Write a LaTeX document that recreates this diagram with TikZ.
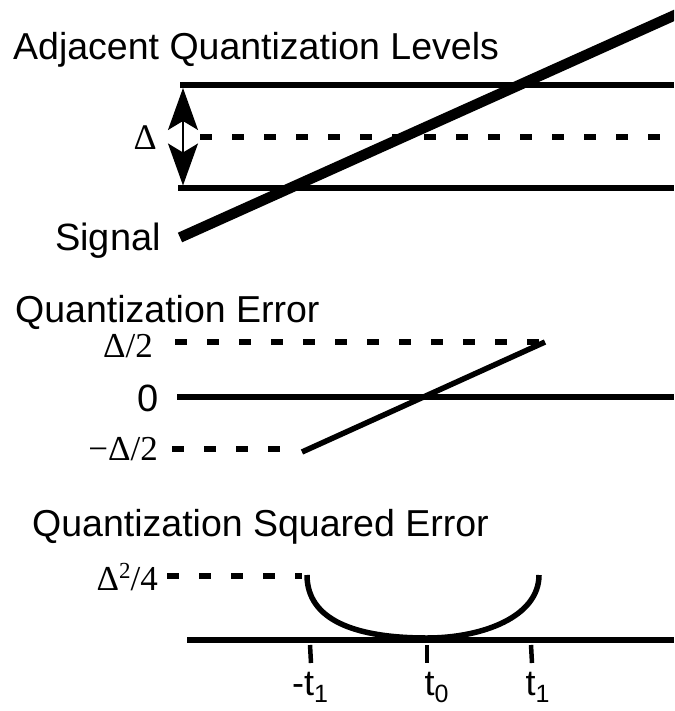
\documentclass[tikz,border=0pt]{standalone}
\usepackage{fontspec}
\setmainfont{Liberation Sans}
\newfontfamily\seriflab{Liberation Serif}
\usetikzlibrary{arrows.meta}
\begin{document}
\begin{tikzpicture}[x=1pt,y=-1pt,
  level/.style={line width=5.5pt},
  dashlevel/.style={line width=5.5pt, dash pattern=on 12pt off 20pt},
  signalline/.style={line width=10.5pt},
  tickline/.style={line width=4.5pt},
  title/.style={anchor=base west, inner sep=0pt, font=\fontsize{37.5}{44}\selectfont},
  sanslab/.style={inner sep=0pt, font=\fontsize{38}{44}\selectfont},
  slabel/.style={anchor=base east, inner sep=0pt, font=\seriflab\fontsize{35}{40}\selectfont},
  tlabel/.style={anchor=base, inner sep=0pt, font=\fontsize{36}{40}\selectfont},
  deltaarrow/.style={line width=1.6pt, >={Stealth[length=42pt,width=30pt,inset=9pt]}, <->},
]
\useasboundingbox (0,0) rectangle (674,711);

% ---------- Adjacent quantization levels ----------
\node[title] (title1) at (13,60) {Adjacent Quantization Levels};
\coordinate (topL) at (180,85);  \coordinate (topR) at (674,85);
\coordinate (botL) at (178,188); \coordinate (botR) at (674,188);
\coordinate (midL) at (200,137); \coordinate (midR) at (674,137);
\draw[level] (topL) -- (topR);
\draw[level] (botL) -- (botR);
\draw[dashlevel] (midL) -- (midR);
\coordinate (arT) at (183,88); \coordinate (arB) at (183,185.5);
\draw[deltaarrow] (arT) -- (arB);
\node[inner sep=0pt, anchor=east, font=\seriflab\fontsize{36}{40}\selectfont] (delta) at (157,138) {Δ};

\node[sanslab, anchor=base east] (signal) at (161,250) {Signal};
\coordinate (sigS) at (180,237.5); \coordinate (sigE) at (700,3.8);
\begin{scope}
  \clip (0,0) rectangle (674,711);
  \draw[signalline] (sigS) -- (sigE);
\end{scope}

% ---------- Quantization error ----------
\node[title] (title2) at (15,322) {Quantization Error};
\node[slabel] (dhalf) at (153,357) {Δ/2};
\node[sanslab, anchor=east] (zero) at (159,398) {0};
\node[slabel] (mdhalf) at (158,460) {−Δ/2};
\coordinate (dhL) at (175,342); \coordinate (dhR) at (540,342);
\coordinate (zL) at (177,397);  \coordinate (zR) at (674,397);
\coordinate (mdL) at (172,449); \coordinate (mdR) at (281,449);
\coordinate (eS) at (302,452);  \coordinate (eE) at (545,342);
\draw[dashlevel] (dhL) -- (dhR);
\draw[level] (zL) -- (zR);
\draw[dashlevel] (mdL) -- (mdR);
\draw[level] (eS) -- (eE);

% ---------- Quantization squared error ----------
\node[title] (title3) at (32,536) {Quantization Squared Error};
\node[slabel] (dsq) at (158,590) {Δ\raisebox{12pt}{\fontsize{23}{23}\selectfont 2}/4};
\coordinate (sqL) at (167,576); \coordinate (sqR) at (302,576);
\draw[dashlevel] (sqL) -- (sqR);
\coordinate (cA) at (307,575); \coordinate (cM) at (427,638); \coordinate (cB) at (539,575);
\draw[level] (cA) .. controls (307,620) and (355,638) .. (cM)
             .. controls (482,638) and (539,617) .. (cB);
\coordinate (axL) at (187,640); \coordinate (axR) at (674,640);
\draw[level] (axL) -- (axR);
\coordinate (k1a) at (310,645); \coordinate (k1b) at (311,663);
\coordinate (k0a) at (427,645); \coordinate (k0b) at (427,663);
\coordinate (k2a) at (531,645); \coordinate (k2b) at (532,663);
\draw[tickline] (k1a) -- (k1b);
\draw[tickline] (k0a) -- (k0b);
\draw[tickline] (k2a) -- (k2b);
\node[tlabel] (lm1) at (310,695) {-t\raisebox{-7pt}{\fontsize{25}{25}\selectfont 1}};
\node[tlabel] (l0) at (436.5,695) {t\raisebox{-7pt}{\fontsize{25}{25}\selectfont 0}};
\node[tlabel] (l1) at (537.5,695) {t\raisebox{-7pt}{\fontsize{25}{25}\selectfont 1}};
\end{tikzpicture}
\end{document}
